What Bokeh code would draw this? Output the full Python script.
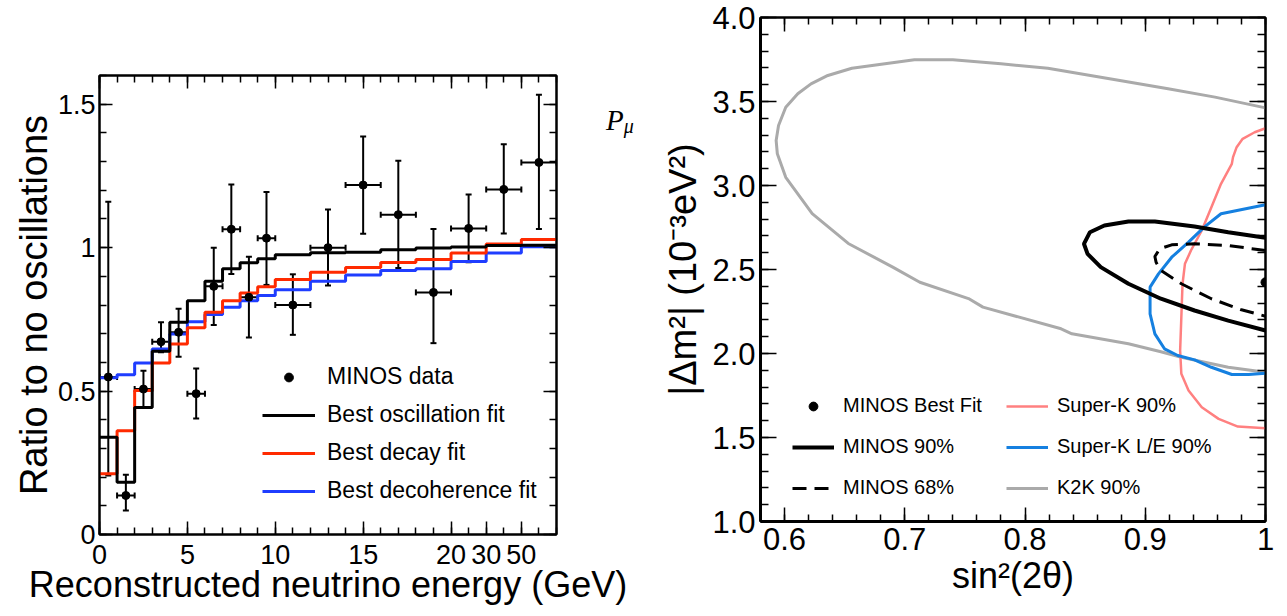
from jinja2 import Template
from bokeh.plotting import figure
from bokeh.models import (ColumnDataSource, Whisker, TeeHead, Legend, LegendItem,
                          LinearAxis, FixedTicker, CustomJSTickFormatter, Range1d, Div)
from bokeh.embed import file_html
from bokeh.resources import INLINE

# ---------------- Left panel data (x in display bin units) ----------------
bin_edges = [0, 1, 2, 3, 4, 5, 6, 7, 8, 9, 10, 12, 14, 16, 18, 20, 22, 24, 26]
energy_tick_pos = [0, 5, 10, 15, 20, 22, 24]
energy_tick_labels = ["0", "5", "10", "15", "20", "30", "50"]

data_x = [0.5, 1.5, 2.5, 3.5, 4.5, 5.5, 6.5, 7.5, 8.5, 9.5, 11, 13, 15, 17, 19, 21, 23, 25]
data_xerr = [0.5, 0.5, 0.5, 0.5, 0.5, 0.5, 0.5, 0.5, 0.5, 0.5, 1, 1, 1, 1, 1, 1, 1, 1]
data_ratio = [0.549, 0.136, 0.507, 0.672, 0.705, 0.491, 0.865, 1.064, 0.827, 1.033,
              0.800, 1.000, 1.218, 1.115, 0.844, 1.067, 1.203, 1.297]
data_upper = [1.160, 0.208, 0.571, 0.740, 0.787, 0.579, 1.000, 1.220, 0.968, 1.194,
              0.907, 1.133, 1.387, 1.303, 1.065, 1.185, 1.360, 1.533]
data_lower = [0.206, 0.084, 0.443, 0.635, 0.620, 0.404, 0.730, 0.908, 0.687, 0.870,
              0.696, 0.868, 1.048, 0.929, 0.667, 0.949, 1.049, 1.065]

osc_fit = [0.339, 0.182, 0.443, 0.639, 0.740, 0.815, 0.883, 0.926, 0.947, 0.961,
           0.975, 0.982, 0.984, 0.993, 0.999, 1.002, 1.007, 1.008]
decay_fit = [0.212, 0.362, 0.502, 0.598, 0.664, 0.721, 0.775, 0.815, 0.842, 0.864,
             0.889, 0.914, 0.931, 0.948, 0.959, 0.981, 1.013, 1.028]
decoh_fit = [0.546, 0.557, 0.598, 0.647, 0.699, 0.742, 0.767, 0.792, 0.815, 0.833,
             0.853, 0.883, 0.905, 0.920, 0.926, 0.952, 0.981, 1.003]

# ---------------- Right panel data ----------------
k2k_x = [1.000, 0.958, 0.919, 0.874, 0.819, 0.780, 0.740, 0.708, 0.656, 0.636, 0.622,
         0.611, 0.601, 0.595, 0.593, 0.594, 0.601, 0.623, 0.653, 0.690, 0.7125, 0.753,
         0.765, 0.830, 0.839, 0.886, 0.913, 0.930, 0.969, 1.000]
k2k_y = [3.462, 3.526, 3.576, 3.631, 3.698, 3.724, 3.748, 3.748, 3.698, 3.655, 3.605,
         3.546, 3.466, 3.357, 3.268, 3.189, 3.049, 2.833, 2.655, 2.514, 2.424, 2.327,
         2.276, 2.147, 2.117, 2.058, 2.010, 1.978, 1.918, 1.889]

minos90_x = [1.000, 0.969, 0.941, 0.908, 0.886, 0.866, 0.854, 0.849, 0.852, 0.863,
             0.886, 0.913, 0.941, 0.969, 1.000]
minos90_y = [2.689, 2.722, 2.756, 2.786, 2.786, 2.762, 2.722, 2.653, 2.593, 2.514,
             2.415, 2.326, 2.256, 2.196, 2.137]

minos68_x = [1.000, 0.969, 0.941, 0.922, 0.912, 0.908, 0.909, 0.913, 0.930, 0.955, 0.980, 1.000]
minos68_y = [2.613, 2.643, 2.653, 2.647, 2.623, 2.577, 2.543, 2.494, 2.415, 2.326, 2.260, 2.222]

skle_x = [1.000, 0.963, 0.949, 0.936, 0.922, 0.911, 0.904, 0.904, 0.908, 0.916, 0.927,
          0.941, 0.955, 0.972, 0.986, 1.000]
skle_y = [2.885, 2.832, 2.752, 2.663, 2.573, 2.474, 2.395, 2.236, 2.117, 2.028, 1.988,
          1.962, 1.918, 1.875, 1.875, 1.883]

sk_x = [1.000, 0.991, 0.981, 0.976, 0.973, 0.972, 0.963, 0.955, 0.947, 0.938, 0.933,
        0.931, 0.930, 0.929, 0.930, 0.936, 0.947, 0.961, 0.977, 1.000]
sk_y = [3.341, 3.317, 3.278, 3.228, 3.169, 3.129, 3.010, 2.871, 2.732, 2.613, 2.534,
        2.415, 2.216, 2.018, 1.879, 1.780, 1.680, 1.611, 1.565, 1.555]

best_fit_x = [1.0]
best_fit_y = [2.424]

FONT = "Liberation Sans"


def style_axis(ax, maj_in, min_in, lw, label_size, tick_size):
    ax.major_tick_in = maj_in
    ax.major_tick_out = 0
    ax.minor_tick_in = min_in
    ax.minor_tick_out = 0
    ax.major_tick_line_color = "black"
    ax.minor_tick_line_color = "black"
    ax.major_tick_line_width = 1.5
    ax.minor_tick_line_width = 1.5
    ax.axis_line_width = lw
    ax.axis_line_color = "black"
    ax.major_label_text_font = FONT
    ax.axis_label_text_font = FONT
    ax.axis_label_text_font_style = "normal"
    ax.axis_label_text_font_size = label_size
    ax.major_label_text_font_size = tick_size
    ax.major_label_text_color = "black"
    ax.axis_label_text_color = "black"


def mirror_axes(p, xticker, yticker, lw, xmaj, xmin, ymaj, ymin):
    top = LinearAxis(ticker=xticker)
    right = LinearAxis(ticker=yticker)
    style_axis(top, xmaj, xmin, lw, "1px", "1px")
    style_axis(right, ymaj, ymin, lw, "1px", "1px")
    for ax in (top, right):
        ax.major_label_text_color = None
        ax.major_label_standoff = 0
    p.add_layout(top, "above")
    p.add_layout(right, "right")


# =================== LEFT FIGURE ===================
p1 = figure(frame_width=457, frame_height=459, x_range=Range1d(0, 26), y_range=Range1d(0, 1.6),
            output_backend="svg", toolbar_location=None,
            min_border_left=91, min_border_right=92, min_border_top=67, min_border_bottom=90)
p1.xgrid.grid_line_color = None
p1.ygrid.grid_line_color = None
p1.outline_line_color = "black"
p1.outline_line_width = 2

x1_ticker = FixedTicker(ticks=energy_tick_pos, minor_ticks=list(range(0, 27)))
y1_ticker = FixedTicker(ticks=[0, 0.5, 1.0, 1.5], minor_ticks=[i / 10 for i in range(17)])

xa = p1.xaxis[0]
ya = p1.yaxis[0]
xa.ticker = x1_ticker
ya.ticker = y1_ticker
xa.formatter = CustomJSTickFormatter(args=dict(pos=energy_tick_pos, labs=energy_tick_labels),
                                     code="const i = pos.indexOf(Math.round(tick)); return i >= 0 ? labs[i] : '';")
ya.formatter = CustomJSTickFormatter(code="return (Math.round(tick*10)/10).toString();")
xa.axis_label = "Reconstructed neutrino energy (GeV)"
ya.axis_label = "Ratio to no oscillations"
style_axis(xa, 13, 7, 2, "36px", "27px")
style_axis(ya, 13, 7, 2, "38px", "27px")
xa.major_label_standoff = 10
xa.axis_label_standoff = -3
ya.major_label_standoff = 4
ya.axis_label_standoff = 0
mirror_axes(p1, x1_ticker, y1_ticker, 2, 13, 7, 13, 7)

blue_r = p1.step(bin_edges, decoh_fit + [decoh_fit[-1]], mode="after", line_width=3, color="#1f3dff")
red_r = p1.step(bin_edges, decay_fit + [decay_fit[-1]], mode="after", line_width=3, color="#ff2a00")
black_r = p1.step(bin_edges, osc_fit + [osc_fit[-1]], mode="after", line_width=3, color="black")

src = ColumnDataSource(dict(
    x=data_x, y=data_ratio, upper=data_upper, lower=data_lower,
    xlo=[a - b for a, b in zip(data_x, data_xerr)],
    xhi=[a + b for a, b in zip(data_x, data_xerr)],
))
p1.add_layout(Whisker(source=src, base="x", upper="upper", lower="lower", dimension="height",
                      line_width=2, line_color="black",
                      upper_head=TeeHead(size=6, line_width=2), lower_head=TeeHead(size=6, line_width=2)))
p1.add_layout(Whisker(source=src, base="y", upper="xhi", lower="xlo", dimension="width",
                      line_width=2, line_color="black",
                      upper_head=TeeHead(size=6, line_width=2), lower_head=TeeHead(size=6, line_width=2)))
pts = p1.scatter("x", "y", source=src, size=8, color="black")

leg1 = Legend(items=[LegendItem(label="MINOS data", renderers=[pts]),
                     LegendItem(label="Best oscillation fit", renderers=[black_r]),
                     LegendItem(label="Best decay fit", renderers=[red_r]),
                     LegendItem(label="Best decoherence fit", renderers=[blue_r])],
              location=(163, 30), glyph_width=53, glyph_height=22, label_standoff=12,
              spacing=11, padding=0, margin=0, border_line_color=None,
              background_fill_alpha=0, label_text_font=FONT, label_text_font_size="23px",
              label_text_color="black")
p1.add_layout(leg1)

# stray symbol from the original figure, between the two panels
pmu = Div(text=('<div style="margin:0; padding:0; line-height:29px; color:black; white-space:nowrap;">'
                '<span style="font-family:\'Liberation Serif\'; font-style:italic; font-size:29px;">P</span>'
                '<sub style="font-family:\'Liberation Serif\'; font-style:italic; font-size:20px;">μ</sub></div>'),
          width=45, height=55, css_classes=["pmu-label"])

# =================== RIGHT FIGURE ===================
p2 = figure(frame_width=505, frame_height=504, x_range=Range1d(0.58, 1.0), y_range=Range1d(1.0, 4.0),
            output_backend="svg", toolbar_location=None, css_classes=["right-panel"],
            min_border_left=112, min_border_right=13, min_border_top=17, min_border_bottom=87)
p2.xgrid.grid_line_color = None
p2.ygrid.grid_line_color = None
p2.outline_line_color = "black"
p2.outline_line_width = 2

x2_ticker = FixedTicker(ticks=[0.6, 0.7, 0.8, 0.9, 1.0], minor_ticks=[0.58 + 0.02 * i for i in range(22)])
y2_ticker = FixedTicker(ticks=[1.0, 1.5, 2.0, 2.5, 3.0, 3.5, 4.0], minor_ticks=[1.0 + 0.1 * i for i in range(31)])
xb = p2.xaxis[0]
yb = p2.yaxis[0]
xb.ticker = x2_ticker
yb.ticker = y2_ticker
xb.formatter = CustomJSTickFormatter(code="return Math.abs(tick-1) < 1e-9 ? '1' : tick.toFixed(1);")
yb.formatter = CustomJSTickFormatter(code="return tick.toFixed(1);")
xb.axis_label = "sin²(2θ)"
yb.axis_label = "|Δm²| (10⁻³eV²)"
style_axis(xb, 14, 7, 3, "36px", "31px")
style_axis(yb, 16, 8, 3, "38px", "31px")
xb.major_label_standoff = 6
xb.axis_label_standoff = 2
yb.major_label_standoff = 5
yb.axis_label_standoff = 5
mirror_axes(p2, x2_ticker, y2_ticker, 2, 14, 7, 16, 8)

k2k_r = p2.line(k2k_x, k2k_y, line_width=3, color="#aaaaaa")
sk_r = p2.line(sk_x, sk_y, line_width=2.5, color="#ff8080")
skle_r = p2.line(skle_x, skle_y, line_width=3, color="#1580e0")
m90_r = p2.line(minos90_x, minos90_y, line_width=4, color="black")
m68_r = p2.line(minos68_x, minos68_y, line_width=3, color="black", line_dash="14 8")
bf_r = p2.scatter(best_fit_x, best_fit_y, size=9, color="black")

legA = Legend(items=[LegendItem(label="MINOS Best Fit", renderers=[bf_r]),
                     LegendItem(label="MINOS 90%", renderers=[m90_r]),
                     LegendItem(label="MINOS 68%", renderers=[m68_r])],
              location=(32, 22), glyph_width=42, glyph_height=22, label_standoff=9,
              spacing=18, padding=0, margin=0, border_line_color=None,
              background_fill_alpha=0, label_text_font=FONT, label_text_font_size="20px",
              label_text_color="black")
legB = Legend(items=[LegendItem(label="Super-K 90%", renderers=[sk_r]),
                     LegendItem(label="Super-K L/E 90%", renderers=[skle_r]),
                     LegendItem(label="K2K 90%", renderers=[k2k_r])],
              location=(246, 22), glyph_width=42, glyph_height=22, label_standoff=9,
              spacing=18, padding=0, margin=0, border_line_color=None,
              background_fill_alpha=0, label_text_font=FONT, label_text_font_size="20px",
              label_text_color="black")
p2.add_layout(legA)
p2.add_layout(legB)

# page: each root laid out independently (no frame alignment between panels)
PAGE = Template("""<!DOCTYPE html>
<html lang="en">
<head>
<meta charset="utf-8">
<title>{{ title }}</title>
{{ bokeh_css }}
{{ bokeh_js }}
<style>
html, body { overflow: hidden; }
body { margin: 8px; }
.panels { display: flex; flex-direction: row; align-items: flex-start; }
.right-panel { position: absolute !important; left: 648px !important; top: 0px !important; }
.pmu-label { position: absolute !important; left: 601px !important; top: 101px !important; }
</style>
</head>
<body>
<div class="panels">
{{ plot_div }}
</div>
{{ plot_script }}
</body>
</html>
""")

open("out.html", "w").write(file_html([p1, pmu, p2], INLINE, title="MINOS", template=PAGE))
